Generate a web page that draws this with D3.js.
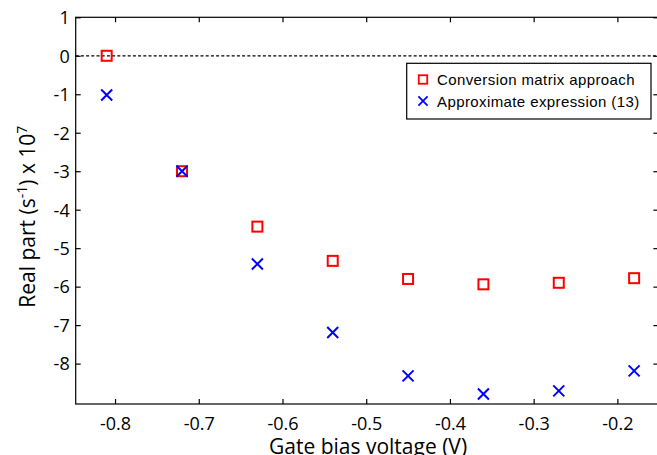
<!DOCTYPE html>
<html>
<head>
<meta charset="utf-8">
<script src="https://cdn.jsdelivr.net/npm/d3@7/dist/d3.min.js"></script>
<style>
  html, body { margin: 0; padding: 0; background: #fff; }
  svg { display: block; }
</style>
</head>
<body>
<svg id="chart" width="657" height="455"></svg>
<script>
// Gate bias sweep (V)
const voltages = [-0.81, -0.72, -0.63, -0.54, -0.45, -0.36, -0.27, -0.18];
// Real part (s^-1) x 1e7 from the conversion matrix approach
const conversionMatrix = [0, -3.0, -4.44, -5.33, -5.80, -5.94, -5.90, -5.78];
// Real part (s^-1) x 1e7 from approximate expression (13)
const approximateExpr = [-1.02, -3.0, -5.41, -7.19, -8.32, -8.79, -8.71, -8.19];

const xTicks = [-0.8, -0.7, -0.6, -0.5, -0.4, -0.3, -0.2];
const yTicks = [1, 0, -1, -2, -3, -4, -5, -6, -7, -8];
const seriesNames = ["Conversion matrix approach", "Approximate expression (13)"];

const svg = d3.select("#chart");
const plot = { left: 75.7, right: 658.4, top: 17.3, bottom: 404 };

const x = d3.scaleLinear().domain([-0.847, -0.151]).range([plot.left, plot.right]);
const y = d3.scaleLinear().domain([-9.05, 1]).range([plot.bottom, plot.top]);

const fmt = v => String(v).replace("\u2212", "-");
const tickLen = 5;
const tickFont = "'Open Sans', sans-serif";

// zero reference line
svg.append("line")
  .attr("x1", plot.left).attr("x2", plot.right)
  .attr("y1", y(0)).attr("y2", y(0))
  .attr("stroke", "#000").attr("stroke-width", 1.2)
  .attr("stroke-dasharray", "3,2.2");

// axes (ticks pointing inward on all four sides)
function styleAxis(g) {
  g.select(".domain").remove();
  g.selectAll(".tick line").attr("stroke", "#000").attr("stroke-width", 1.2);
  g.selectAll(".tick text").attr("fill", "#000")
    .style("font-family", tickFont).style("font-size", "18px");
}

const bottomAxis = svg.append("g")
  .attr("transform", `translate(0,${plot.bottom})`)
  .call(d3.axisBottom(x).tickValues(xTicks).tickSizeInner(-tickLen).tickSizeOuter(0)
    .tickPadding(0).tickFormat(fmt));
styleAxis(bottomAxis);
bottomAxis.selectAll(".tick text").attr("y", 26).attr("dy", 0);

const topAxis = svg.append("g")
  .attr("transform", `translate(0,${plot.top})`)
  .call(d3.axisTop(x).tickValues(xTicks).tickSizeInner(-tickLen).tickSizeOuter(0).tickFormat(""));
styleAxis(topAxis);

const leftAxis = svg.append("g")
  .attr("transform", `translate(${plot.left},0)`)
  .call(d3.axisLeft(y).tickValues(yTicks).tickSizeInner(-tickLen).tickSizeOuter(0)
    .tickPadding(0).tickFormat(fmt));
styleAxis(leftAxis);
leftAxis.selectAll(".tick text").attr("x", -6).attr("dy", "0.35em");

const rightAxis = svg.append("g")
  .attr("transform", `translate(${plot.right},0)`)
  .call(d3.axisRight(y).tickValues(yTicks).tickSizeInner(-tickLen).tickSizeOuter(0).tickFormat(""));
styleAxis(rightAxis);

// plot box
svg.append("rect")
  .attr("x", plot.left).attr("y", plot.top)
  .attr("width", plot.right - plot.left).attr("height", plot.bottom - plot.top)
  .attr("fill", "none").attr("stroke", "#000").attr("stroke-width", 1.2);

// markers
const sq = 10, xs = 5.5;
const points = voltages.map((v, i) => ({ v, a: conversionMatrix[i], b: approximateExpr[i] }));

svg.append("g").selectAll("rect").data(points).join("rect")
  .attr("x", d => x(d.v) - sq / 2).attr("y", d => y(d.a) - sq / 2)
  .attr("width", sq).attr("height", sq)
  .attr("fill", "none").attr("stroke", "#ff0000").attr("stroke-width", 2);

svg.append("g").selectAll("path").data(points).join("path")
  .attr("d", d => {
    const cx = x(d.v), cy = y(d.b);
    return `M${cx - xs},${cy - xs}L${cx + xs},${cy + xs}M${cx - xs},${cy + xs}L${cx + xs},${cy - xs}`;
  })
  .attr("fill", "none").attr("stroke", "#0000ff").attr("stroke-width", 2);

// legend
const lg = svg.append("g");
lg.append("rect")
  .attr("x", 406.7).attr("y", 63.3).attr("width", 244.3).attr("height", 55.7)
  .attr("fill", "#fff").attr("stroke", "#000").attr("stroke-width", 1.2);
const lsq = 8.5, lxs = 4.6;
lg.append("rect")
  .attr("x", 423 - lsq / 2).attr("y", 79.5 - lsq / 2).attr("width", lsq).attr("height", lsq)
  .attr("fill", "none").attr("stroke", "#ff0000").attr("stroke-width", 1.8);
lg.append("path")
  .attr("d", `M${423 - lxs},${101 - lxs}L${423 + lxs},${101 + lxs}M${423 - lxs},${101 + lxs}L${423 + lxs},${101 - lxs}`)
  .attr("fill", "none").attr("stroke", "#0000ff").attr("stroke-width", 1.8);
lg.selectAll("text").data(seriesNames).join("text")
  .attr("x", 437).attr("y", (d, i) => 85 + i * 21.5)
  .style("font-family", "'Liberation Sans', Arial, sans-serif").style("font-size", "15px")
  .style("letter-spacing", "0.4px")
  .attr("fill", "#000")
  .text(d => d);

// axis titles
svg.append("text")
  .attr("x", (plot.left + plot.right) / 2 + 1).attr("y", 453.5)
  .attr("text-anchor", "middle")
  .style("font-family", tickFont).style("font-size", "21px")
  .attr("fill", "#000")
  .text("Gate bias voltage (V)");

const yt = svg.append("text")
  .attr("transform", `translate(35,${(plot.top + plot.bottom) / 2 + 6}) rotate(-90)`)
  .attr("text-anchor", "middle")
  .style("font-family", tickFont).style("font-size", "21px")
  .attr("fill", "#000");
yt.append("tspan").text("Real part (s");
yt.append("tspan").attr("dy", -8).style("font-size", "14px").text("-1");
yt.append("tspan").attr("dy", 8).text(") x 10");
yt.append("tspan").attr("dy", -8).style("font-size", "14px").text("7");
</script>
</body>
</html>
